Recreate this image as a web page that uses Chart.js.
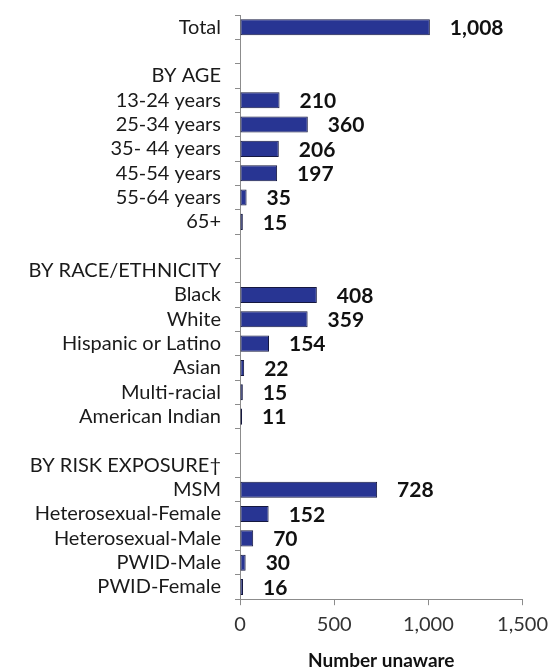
<!DOCTYPE html>
<html>
<head>
<meta charset="utf-8">
<script src="https://cdn.jsdelivr.net/npm/chart.js@4/dist/chart.umd.min.js"></script>
<style>
  html, body { margin: 0; padding: 0; background: #ffffff; }
  #wrap { width: 555px; height: 672px; position: relative; }
</style>
</head>
<body>
<div id="wrap"><canvas id="chart" width="555" height="672"></canvas></div>
<script>
// Rows of the chart, top to bottom; section headers and spacer rows carry no value
const categories = [
  'Total', '', 'BY AGE',
  '13-24 years', '25-34 years', '35- 44 years', '45-54 years', '55-64 years', '65+',
  '', 'BY RACE/ETHNICITY',
  'Black', 'White', 'Hispanic or Latino', 'Asian', 'Multi-racial', 'American Indian',
  '', 'BY RISK EXPOSURE\u2020',
  'MSM', 'Heterosexual-Female', 'Heterosexual-Male', 'PWID-Male', 'PWID-Female'
];
const numberUnaware = [
  1008, null, null,
  210, 360, 206, 197, 35, 15,
  null, null,
  408, 359, 154, 22, 15, 11,
  null, null,
  728, 152, 70, 30, 16
];
const xTicks = [0, 500, 1000, 1500];
const xTitle = 'Number unaware';

const FONT = 'Lato, "Open Sans", sans-serif';
const AXIS_GRAY = '#8c8c8c';

// Bold value written to the right of each bar
const valueLabels = {
  id: 'valueLabels',
  afterDatasetsDraw(chart) {
    const ctx = chart.ctx;
    const meta = chart.getDatasetMeta(0);
    ctx.save();
    ctx.font = 'bold 21px ' + FONT;
    ctx.fillStyle = '#111111';
    ctx.textAlign = 'left';
    ctx.textBaseline = 'middle';
    meta.data.forEach((bar, i) => {
      const v = numberUnaware[i];
      if (v === null || v === undefined) return;
      ctx.fillText(v.toLocaleString('en-US'), bar.x + 20, bar.y + 1);
    });
    ctx.restore();
  }
};

new Chart(document.getElementById('chart'), {
  type: 'bar',
  data: {
    labels: categories,
    datasets: [{
      data: numberUnaware,
      backgroundColor: '#283593',
      borderColor: '#15183f',
      borderWidth: 1,
      borderSkipped: false,
      categoryPercentage: 0.66,
      barPercentage: 1.0
    }]
  },
  options: {
    indexAxis: 'y',
    responsive: false,
    animation: false,
    devicePixelRatio: 1,
    layout: { padding: { top: 15, right: 26, left: 0, bottom: 0 } },
    plugins: {
      legend: { display: false },
      tooltip: { enabled: false }
    },
    scales: {
      x: {
        min: 0,
        max: 1500,
        afterBuildTicks(scale) { scale.ticks = xTicks.map(v => ({ value: v })); },
        border: { color: AXIS_GRAY, width: 1 },
        grid: { drawOnChartArea: false, drawTicks: true, tickLength: 6, color: AXIS_GRAY },
        ticks: {
          color: '#333333',
          font: { family: FONT, size: 20 },
          padding: 7,
          maxRotation: 0,
          callback: v => v.toLocaleString('en-US')
        },
        title: {
          display: true,
          text: xTitle,
          color: '#111111',
          font: { family: FONT, size: 19, weight: 'bold' },
          padding: { top: 6, bottom: 0 }
        }
      },
      y: {
        afterFit(scale) {
          scale.width = 240;
          // row labels sit inside their bands, so no extra room above/below
          scale.paddingTop = 0;
          scale.paddingBottom = 0;
        },
        border: { color: AXIS_GRAY, width: 1 },
        grid: { offset: true, drawOnChartArea: false, drawTicks: true, tickLength: 5, color: AXIS_GRAY },
        ticks: {
          color: '#1a1a1a',
          font: { family: FONT, size: 20 },
          padding: 14,
          autoSkip: false
        }
      }
    }
  },
  plugins: [valueLabels]
});
</script>
</body>
</html>
